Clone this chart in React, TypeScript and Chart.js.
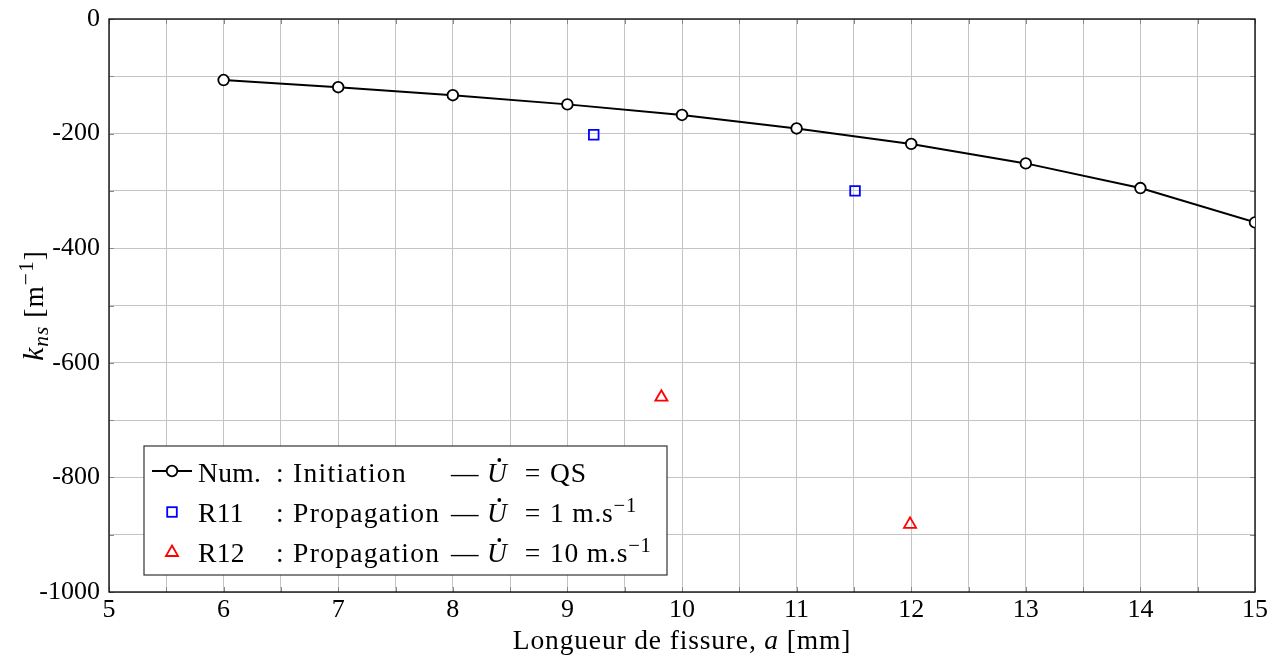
import React, { useEffect, useRef } from 'react';
import { Chart, registerables } from 'chart.js';

Chart.register(...registerables);

// ---- data ----
const numCrackLength = [6, 7, 8, 9, 10, 11, 12, 13, 14, 15];
const numK = [-106.5, -119, -133, -149, -167.5, -191, -218, -252, -295, -355];
const r11CrackLength = [9.23, 11.51];
const r11K = [-202, -300];
const r12CrackLength = [9.82, 11.99];
const r12K = [-660, -882];

const xMin = 5;
const xMax = 15;
const xGridStep = 0.5;
const xLabelStep = 1;
const yMin = -1000;
const yMax = 0;
const yGridStep = 100;
const yLabelStep = 200;

const legendNames = ['Num.', 'R11', 'R12'];
const legendKinds = [': Initiation', ': Propagation', ': Propagation'];
const legendRates = ['QS', '1 m.s', '10 m.s'];
const legendRateSup = ['', '\u22121', '\u22121'];

const xTitle = ['Longueur de fissure, ', 'a', ' [mm]'];

// ---- styles ----
const FONT = '"Liberation Serif", "Times New Roman", serif';
const FS = 27.5;
const TICK_FS = 26;
const GRID = '#c4c4c4';

type Part = { t: string; it?: boolean; s?: number; dy?: number };

function setFont(ctx: CanvasRenderingContext2D, p: Part) {
  const size = FS * (p.s ?? 1);
  ctx.font = `${p.it ? 'italic ' : ''}${size}px ${FONT}`;
}

function measureRun(ctx: CanvasRenderingContext2D, parts: Part[]) {
  let w = 0;
  for (const p of parts) {
    setFont(ctx, p);
    w += ctx.measureText(p.t).width;
  }
  return w;
}

function drawRun(ctx: CanvasRenderingContext2D, x: number, y: number, parts: Part[]) {
  let cx = x;
  for (const p of parts) {
    setFont(ctx, p);
    ctx.fillText(p.t, cx, y + (p.dy ?? 0) * FS);
    cx += ctx.measureText(p.t).width;
  }
  return cx;
}

function drawUdot(ctx: CanvasRenderingContext2D, x: number, y: number) {
  setFont(ctx, { t: 'U', it: true });
  ctx.fillText('U', x, y);
  const w = ctx.measureText('U').width;
  ctx.beginPath();
  ctx.arc(x + w * 0.62, y - FS * 0.8, 1.9, 0, Math.PI * 2);
  ctx.fill();
}

const decorPlugin = {
  id: 'decor',
  beforeDatasetsDraw(chart: any) {
    const { ctx, chartArea: a, scales } = chart;
    ctx.save();
    // small inner tick marks on all four sides
    ctx.strokeStyle = '#8a8a8a';
    ctx.lineWidth = 1;
    const tl = 5;
    ctx.beginPath();
    for (const t of scales.x.ticks) {
      const px = Math.round(scales.x.getPixelForValue(t.value)) + 0.5;
      ctx.moveTo(px, a.bottom);
      ctx.lineTo(px, a.bottom - tl);
      ctx.moveTo(px, a.top);
      ctx.lineTo(px, a.top + tl);
    }
    for (const t of scales.y.ticks) {
      const py = Math.round(scales.y.getPixelForValue(t.value)) + 0.5;
      ctx.moveTo(a.left, py);
      ctx.lineTo(a.left + tl, py);
      ctx.moveTo(a.right, py);
      ctx.lineTo(a.right - tl, py);
    }
    ctx.stroke();

    ctx.strokeStyle = '#000';
    ctx.lineWidth = 1.3;
    ctx.strokeRect(a.left, a.top, a.right - a.left, a.bottom - a.top);
    ctx.restore();
  },
  afterDraw(chart: any) {
    const { ctx, chartArea: a } = chart;
    ctx.save();
    ctx.fillStyle = '#000';
    ctx.textAlign = 'left';
    ctx.textBaseline = 'alphabetic';

    // x title
    (ctx as any).letterSpacing = '0.85px';
    const xParts: Part[] = [{ t: xTitle[0] }, { t: xTitle[1], it: true }, { t: xTitle[2] }];
    const xw = measureRun(ctx, xParts);
    drawRun(ctx, (a.left + a.right) / 2 - xw / 2, 649, xParts);

    // y title (rotated)
    (ctx as any).letterSpacing = '1px';
    const yParts: Part[] = [
      { t: 'k', it: true, s: 1.08 },
      { t: 'ns', it: true, s: 0.78, dy: 0.18 },
      { t: ' [m' },
      { t: '\u22121', s: 0.78, dy: -0.38 },
      { t: ']' },
    ];
    const yw = measureRun(ctx, yParts);
    ctx.save();
    ctx.translate(43, (a.top + a.bottom) / 2);
    ctx.rotate(-Math.PI / 2);
    drawRun(ctx, -yw / 2, 0, yParts);
    ctx.restore();

    // legend box
    (ctx as any).letterSpacing = '0px';
    const bx = 144, by = 446, bw = 523, bh = 129;
    ctx.fillStyle = '#fff';
    ctx.fillRect(bx, by, bw, bh);
    ctx.strokeStyle = '#333';
    ctx.lineWidth = 1.2;
    ctx.strokeRect(bx, by, bw, bh);

    const rowY = [482, 522, 562];
    const markY = [471, 512, 551.5];
    const mx = 172;

    // row 1 marker: line with circle
    ctx.strokeStyle = '#000';
    ctx.lineWidth = 2;
    ctx.beginPath();
    ctx.moveTo(152, markY[0]);
    ctx.lineTo(192, markY[0]);
    ctx.stroke();
    ctx.lineWidth = 1.8;
    ctx.beginPath();
    ctx.arc(mx, markY[0], 5.3, 0, Math.PI * 2);
    ctx.fillStyle = '#fff';
    ctx.fill();
    ctx.stroke();

    // row 2 marker: blue square
    ctx.strokeStyle = '#0000ff';
    ctx.lineWidth = 1.8;
    ctx.strokeRect(mx - 4.8, markY[1] - 4.8, 9.6, 9.6);

    // row 3 marker: red triangle
    const r = 7;
    ctx.strokeStyle = '#ff0000';
    ctx.beginPath();
    for (let k = 0; k < 3; k++) {
      const ang = (k * 2 * Math.PI) / 3;
      const px = mx + Math.sin(ang) * r;
      const py = markY[2] + 1 - Math.cos(ang) * r;
      if (k === 0) ctx.moveTo(px, py);
      else ctx.lineTo(px, py);
    }
    ctx.closePath();
    ctx.stroke();

    ctx.fillStyle = '#000';
    for (let i = 0; i < 3; i++) {
      const y = rowY[i];
      (ctx as any).letterSpacing = '0.3px';
      drawRun(ctx, 198, y, [{ t: legendNames[i] }]);
      (ctx as any).letterSpacing = '1.3px';
      drawRun(ctx, 276, y, [{ t: legendKinds[i] }]);
      (ctx as any).letterSpacing = '0px';
      drawRun(ctx, 451, y, [{ t: '\u2014' }]);
      drawUdot(ctx, 487, y);
      setFont(ctx, { t: '=' });
      const ew = ctx.measureText('=').width;
      ctx.fillText('=', 532.5 - ew / 2, y);
      (ctx as any).letterSpacing = '0.8px';
      const parts: Part[] = [{ t: legendRates[i] }];
      if (legendRateSup[i]) parts.push({ t: legendRateSup[i], s: 0.75, dy: -0.38 });
      drawRun(ctx, 550, y, parts);
    }
    ctx.restore();
  },
};

export default function App() {
  const ref = useRef<HTMLCanvasElement | null>(null);

  useEffect(() => {
    if (!ref.current) return;
    const tickFont = { family: FONT, size: TICK_FS };
    const chart = new Chart(ref.current, {
      type: 'scatter',
      data: {
        datasets: [
          {
            label: 'Num.',
            data: numCrackLength.map((x, i) => ({ x, y: numK[i] })),
            showLine: true,
            borderColor: '#000',
            borderWidth: 2,
            tension: 0,
            pointRadius: 5.3,
            pointHoverRadius: 5.3,
            pointBackgroundColor: '#fff',
            pointBorderColor: '#000',
            pointBorderWidth: 1.8,
          },
          {
            label: 'R11',
            data: r11CrackLength.map((x, i) => ({ x, y: r11K[i] })),
            showLine: false,
            pointStyle: 'rect',
            pointRadius: 6.8,
            pointHoverRadius: 6.8,
            pointBackgroundColor: 'rgba(0,0,0,0)',
            pointBorderColor: '#0000ff',
            pointBorderWidth: 1.8,
          },
          {
            label: 'R12',
            data: r12CrackLength.map((x, i) => ({ x, y: r12K[i] })),
            showLine: false,
            pointStyle: 'triangle',
            pointRadius: 7,
            pointHoverRadius: 7,
            pointBackgroundColor: 'rgba(0,0,0,0)',
            pointBorderColor: '#ff0000',
            pointBorderWidth: 1.8,
          },
        ],
      },
      options: {
        responsive: false,
        animation: false,
        devicePixelRatio: 1,
        layout: { padding: { left: 0, right: 31, top: 19, bottom: 0 } },
        plugins: {
          legend: { display: false },
          tooltip: { enabled: false },
          title: { display: false },
        },
        scales: {
          x: {
            type: 'linear',
            min: xMin,
            max: xMax,
            afterFit: (s: any) => {
              s.height = 74;
              s.paddingLeft = 0;
              s.paddingRight = 0;
            },
            ticks: {
              stepSize: xGridStep,
              autoSkip: false,
              maxRotation: 0,
              padding: 3,
              color: '#000',
              font: tickFont,
              callback: (v: any) => {
                const n = Number(v);
                return Math.abs(n / xLabelStep - Math.round(n / xLabelStep)) < 1e-6 ? String(n) : '';
              },
            },
            grid: { color: GRID, lineWidth: 1, drawTicks: false },
            border: { display: false },
          },
          y: {
            type: 'linear',
            min: yMin,
            max: yMax,
            afterFit: (s: any) => {
              s.width = 109;
              s.paddingTop = 0;
              s.paddingBottom = 0;
            },
            ticks: {
              stepSize: yGridStep,
              autoSkip: false,
              padding: 9,
              color: '#000',
              font: tickFont,
              callback: (v: any) => {
                const n = Math.round(Number(v));
                return n % yLabelStep === 0 ? String(n) : '';
              },
            },
            grid: { color: GRID, lineWidth: 1, drawTicks: false },
            border: { display: false },
          },
        },
      },
      plugins: [decorPlugin],
    } as any);
    return () => chart.destroy();
  }, []);

  return (
    <div style={{ position: 'absolute', left: 0, top: 0, width: 1286, height: 666, background: '#fff' }}>
      <canvas ref={ref} width={1286} height={666} style={{ display: 'block' }} />
    </div>
  );
}
